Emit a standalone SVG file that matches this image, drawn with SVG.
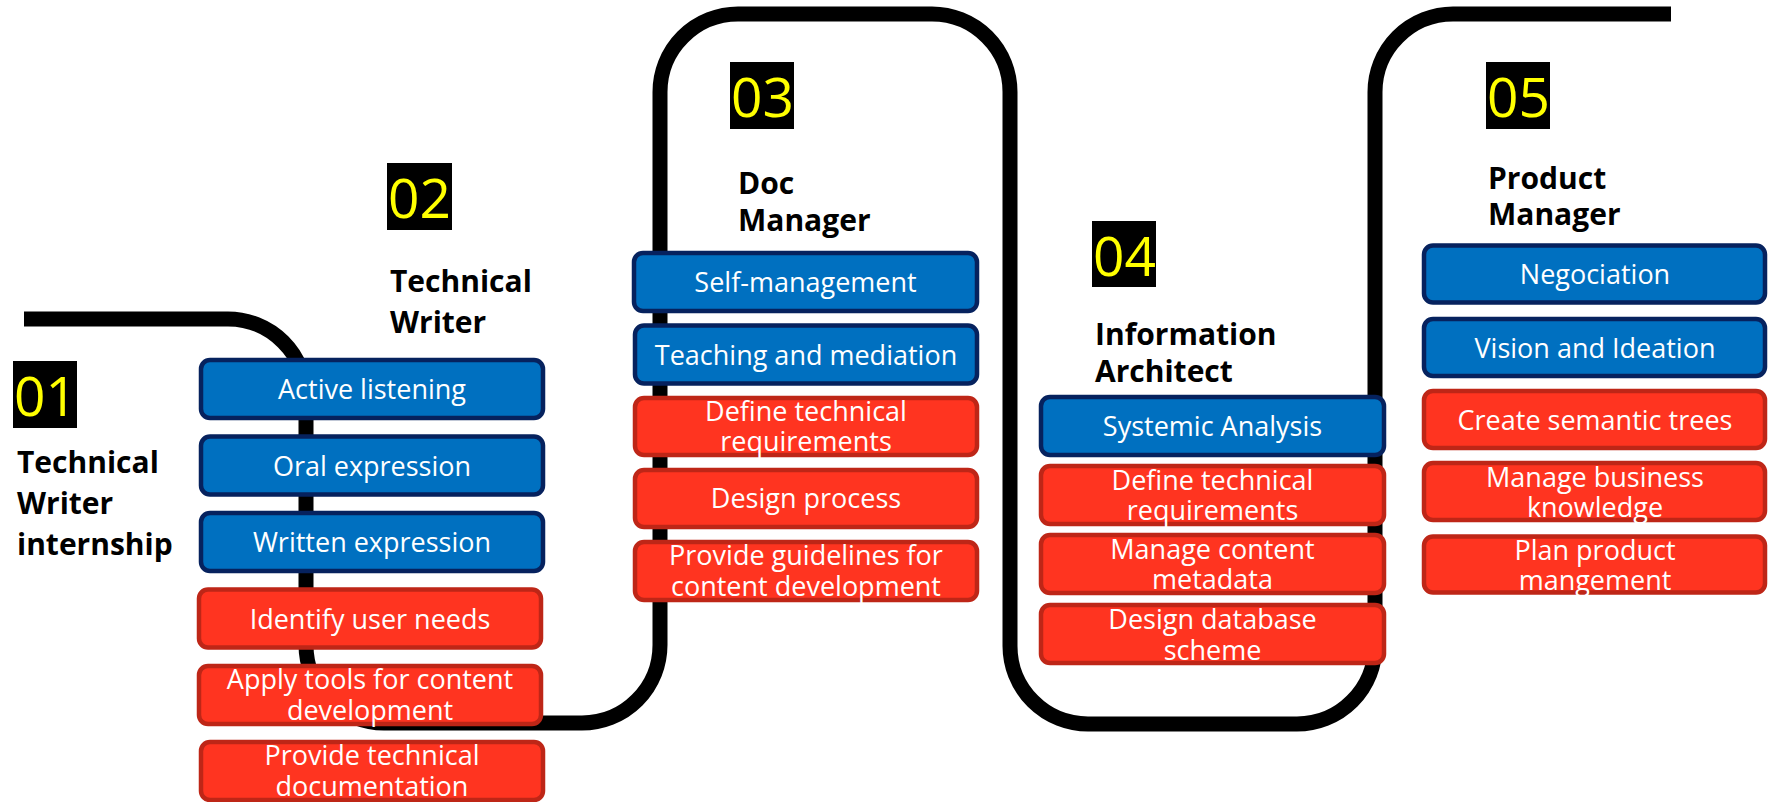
<svg xmlns="http://www.w3.org/2000/svg" width="1768" height="802" viewBox="0 0 1768 802">
<style>
.bg{fill:#ffffff}
.road{fill:none;stroke:#000;stroke-width:15}
.b{fill:#0070C0;stroke:#06225E;stroke-width:4.5}
.r{fill:#FF3420;stroke:#BE2617;stroke-width:4.5}
.t{font-family:"Open Sans","Noto Sans",sans-serif;font-size:27px;fill:#fff;text-anchor:middle}
.h{font-family:"Open Sans","Noto Sans",sans-serif;font-size:30px;font-weight:700;fill:#000}
.nb{fill:#000}
.n{font-family:"Open Sans","Noto Sans",sans-serif;font-size:55px;fill:#FFFF00}
</style>
<rect class="bg" x="0" y="0" width="1768" height="802"/>
<g id="connectors">
<path class="road" d="M 24 319 H 228 A 78 78 0 0 1 306 397 V 645 A 78 78 0 0 0 384 723 H 582 A 78 78 0 0 0 660 645 V 92 A 78 78 0 0 1 738 14 H 932 A 78 78 0 0 1 1010 92 V 646 A 78 78 0 0 0 1088 724 H 1297 A 78 78 0 0 0 1375 646 V 92 A 78 78 0 0 1 1453 14 H 1671"/>
</g>
<g id="step01">
<rect class="nb" x="13" y="361" width="64" height="67"/>
<text class="n" x="14" y="416">01</text>
<text class="h" x="17" y="473">Technical</text>
<text class="h" x="17" y="514">Writer</text>
<text class="h" x="17" y="555">internship</text>
</g>
<g id="step02">
<rect class="nb" x="387" y="163" width="65" height="67"/>
<text class="n" x="388" y="218">02</text>
<text class="h" x="390" y="292">Technical</text>
<text class="h" x="390" y="333">Writer</text>
</g>
<g id="step03">
<rect class="nb" x="730" y="62" width="64" height="67"/>
<text class="n" x="731" y="117">03</text>
<text class="h" x="738" y="194">Doc</text>
<text class="h" x="738" y="231">Manager</text>
</g>
<g id="step04">
<rect class="nb" x="1092" y="221" width="64" height="66"/>
<text class="n" x="1093" y="276">04</text>
<text class="h" x="1095" y="345">Information</text>
<text class="h" x="1095" y="382">Architect</text>
</g>
<g id="step05">
<rect class="nb" x="1486" y="62" width="64" height="67"/>
<text class="n" x="1487" y="117">05</text>
<text class="h" x="1488" y="189">Product</text>
<text class="h" x="1488" y="225">Manager</text>
</g>
<g id="c1-active-listening"><rect class="b" x="201" y="360" width="342" height="58" rx="9"/><text class="t" x="372" y="399">Active listening</text></g>
<g id="c1-oral-expression"><rect class="b" x="201" y="436.5" width="342" height="58" rx="9"/><text class="t" x="372" y="475.5">Oral expression</text></g>
<g id="c1-written-expression"><rect class="b" x="201" y="513" width="342" height="58" rx="9"/><text class="t" x="372" y="552">Written expression</text></g>
<g id="c1-identify-user-needs"><rect class="r" x="199" y="589.5" width="342" height="58" rx="9"/><text class="t" x="370" y="628.5">Identify user needs</text></g>
<g id="c1-apply-tools"><rect class="r" x="199" y="666" width="342" height="58" rx="9"/><text class="t" x="370" y="689">Apply tools for content</text><text class="t" x="370" y="720">development</text></g>
<g id="c1-provide-doc"><rect class="r" x="201" y="742" width="342" height="58" rx="9"/><text class="t" x="372" y="765">Provide technical</text><text class="t" x="372" y="796">documentation</text></g>
<g id="c2-self-management"><rect class="b" x="634" y="253" width="343" height="58" rx="9"/><text class="t" x="805.5" y="292">Self-management</text></g>
<g id="c2-teaching"><rect class="b" x="635" y="325.5" width="342" height="58" rx="9"/><text class="t" x="806" y="364.5">Teaching and mediation</text></g>
<g id="c2-define-req"><rect class="r" x="635" y="398" width="342" height="57" rx="9"/><text class="t" x="806" y="421">Define technical</text><text class="t" x="806" y="451">requirements</text></g>
<g id="c2-design-process"><rect class="r" x="635" y="470" width="342" height="57" rx="9"/><text class="t" x="806" y="508">Design process</text></g>
<g id="c2-guidelines"><rect class="r" x="635" y="542" width="342" height="58" rx="9"/><text class="t" x="806" y="565">Provide guidelines for</text><text class="t" x="806" y="595.5">content development</text></g>
<g id="c3-systemic"><rect class="b" x="1041" y="397" width="343" height="58" rx="9"/><text class="t" x="1212.5" y="436">Systemic Analysis</text></g>
<g id="c3-define-req"><rect class="r" x="1041" y="466" width="343" height="58" rx="9"/><text class="t" x="1212.5" y="490">Define technical</text><text class="t" x="1212.5" y="520">requirements</text></g>
<g id="c3-metadata"><rect class="r" x="1041" y="535" width="343" height="58" rx="9"/><text class="t" x="1212.5" y="559">Manage content</text><text class="t" x="1212.5" y="589">metadata</text></g>
<g id="c3-database"><rect class="r" x="1041" y="605" width="343" height="58" rx="9"/><text class="t" x="1212.5" y="628.5">Design database</text><text class="t" x="1212.5" y="659.5">scheme</text></g>
<g id="c4-negociation"><rect class="b" x="1424" y="245.5" width="341" height="57" rx="9"/><text class="t" x="1595" y="284">Negociation</text></g>
<g id="c4-vision"><rect class="b" x="1424" y="319" width="341" height="57" rx="9"/><text class="t" x="1595" y="357.5">Vision and Ideation</text></g>
<g id="c4-semantic"><rect class="r" x="1424" y="391" width="341" height="57" rx="9"/><text class="t" x="1595" y="429.5">Create semantic trees</text></g>
<g id="c4-business"><rect class="r" x="1424" y="463" width="341" height="57" rx="9"/><text class="t" x="1595" y="486.5">Manage business</text><text class="t" x="1595" y="517">knowledge</text></g>
<g id="c4-plan"><rect class="r" x="1424" y="536.5" width="341" height="56" rx="9"/><text class="t" x="1595" y="559.5">Plan product</text><text class="t" x="1595" y="590">mangement</text></g>
</svg>
